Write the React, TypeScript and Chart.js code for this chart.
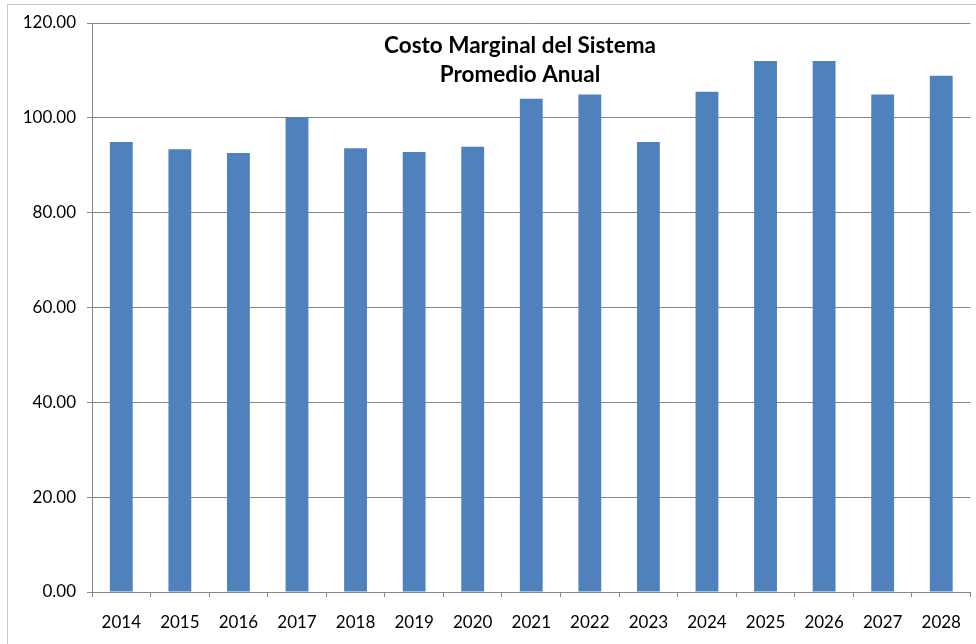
import React, { useEffect, useRef } from 'react';
import { Chart, registerables } from 'chart.js';

Chart.register(...registerables);

const years = ['2014', '2015', '2016', '2017', '2018', '2019', '2020', '2021', '2022', '2023', '2024', '2025', '2026', '2027', '2028'];
const costoMarginal = [94.9, 93.4, 92.6, 100.2, 93.6, 92.8, 93.9, 104.0, 104.9, 94.9, 105.5, 112.0, 112.0, 104.9, 108.9];
const yMin = 0;
const yMax = 120;
const yStep = 20;
const titleLines = ['Costo Marginal del Sistema', 'Promedio Anual'];

const FONT = 'Lato, "Open Sans", sans-serif';
const GRID = '#868686';

const framePlugin = {
  id: 'frame',
  beforeDraw(chart: any) {
    const ctx = chart.ctx;
    ctx.save();
    ctx.fillStyle = '#ffffff';
    ctx.fillRect(0, 0, chart.width, chart.height);
    ctx.strokeStyle = '#c8c8c8';
    ctx.lineWidth = 1;
    ctx.strokeRect(7.5, 4.5, chart.width + 20, chart.height + 20);
    ctx.restore();
  },
};

const titlePlugin = {
  id: 'innerTitle',
  afterDraw(chart: any) {
    const ctx = chart.ctx;
    ctx.save();
    ctx.fillStyle = '#000000';
    ctx.font = `bold 22.5px ${FONT}`;
    ctx.textAlign = 'center';
    ctx.textBaseline = 'alphabetic';
    ctx.fillText(titleLines[0], 520, 53);
    ctx.fillText(titleLines[1], 520, 82);
    ctx.restore();
  },
};

export default function App() {
  const ref = useRef<HTMLCanvasElement | null>(null);

  useEffect(() => {
    if (!ref.current) return;
    const chart = new Chart(ref.current, {
      type: 'bar',
      data: {
        labels: years,
        datasets: [
          {
            label: 'Costo Marginal',
            data: costoMarginal,
            backgroundColor: '#4f81bd',
            borderWidth: 0,
            barPercentage: 0.39,
            categoryPercentage: 1,
          },
        ],
      },
      options: {
        responsive: false,
        animation: false,
        layout: { padding: { top: 23, right: 1, left: 0, bottom: 0 } },
        plugins: {
          legend: { display: false },
          title: { display: false },
          tooltip: { enabled: false },
        },
        scales: {
          x: {
            afterFit(scale: any) {
              scale.height = 52;
            },
            grid: {
              offset: true,
              drawOnChartArea: false,
              drawTicks: true,
              tickLength: 5,
              color: GRID,
            },
            border: { display: true, color: GRID },
            ticks: {
              color: '#000000',
              font: { family: FONT, size: 17 },
              padding: 15,
              maxRotation: 0,
              autoSkip: false,
            },
          },
          y: {
            min: yMin,
            max: yMax,
            afterFit(scale: any) {
              scale.width = 92;
            },
            grid: {
              color: GRID,
              tickLength: 5,
              drawTicks: true,
            },
            border: { display: true, color: GRID },
            ticks: {
              stepSize: yStep,
              color: '#000000',
              font: { family: FONT, size: 17 },
              padding: 11,
              callback: (v: any) => Number(v).toFixed(2),
            },
          },
        },
      },
      plugins: [framePlugin, titlePlugin],
    });
    return () => chart.destroy();
  }, []);

  return (
    <div style={{ position: 'fixed', left: 0, top: 0, width: 976, height: 644 }}>
      <canvas ref={ref} width={976} height={644} />
    </div>
  );
}
